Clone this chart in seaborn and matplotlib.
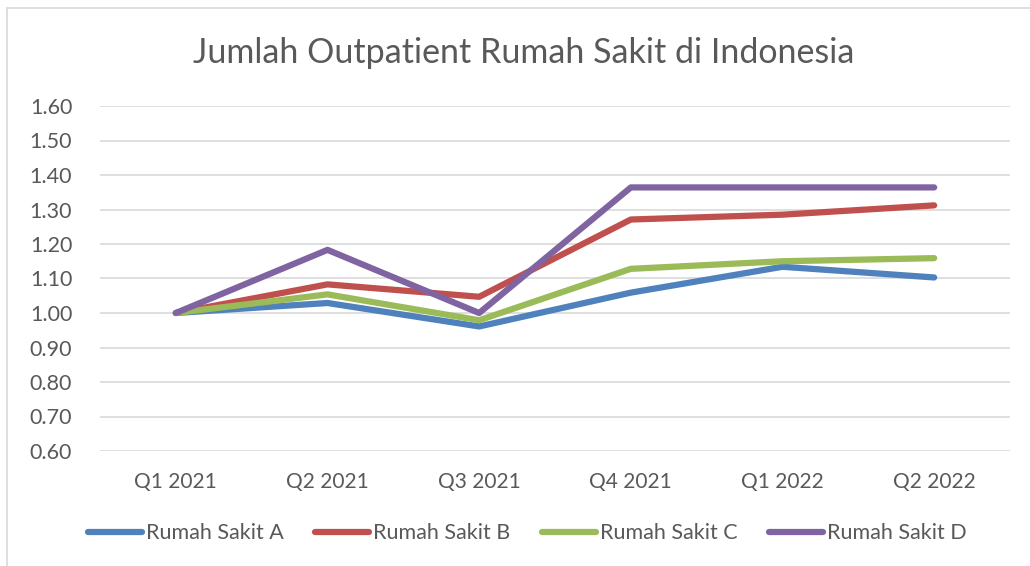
import pandas as pd
import matplotlib.pyplot as plt
import seaborn as sns

# Data
quarters = ['Q1 2021', 'Q2 2021', 'Q3 2021', 'Q4 2021', 'Q1 2022', 'Q2 2022']
rs_a = [1.00, 1.029, 0.961, 1.059, 1.134, 1.103]
rs_b = [1.00, 1.083, 1.047, 1.271, 1.285, 1.312]
rs_c = [1.00, 1.054, 0.979, 1.128, 1.150, 1.159]
rs_d = [1.00, 1.183, 1.000, 1.364, 1.364, 1.364]
series_names = ['Rumah Sakit A', 'Rumah Sakit B', 'Rumah Sakit C', 'Rumah Sakit D']
colors = ['#4F81BD', '#C0504D', '#9BBB59', '#8064A2']
yticks = [0.60, 0.70, 0.80, 0.90, 1.00, 1.10, 1.20, 1.30, 1.40, 1.50, 1.60]

# long format for seaborn
rows = []
for name, vals in zip(series_names, [rs_a, rs_b, rs_c, rs_d]):
    for q, v in zip(quarters, vals):
        rows.append({'Quarter': q, 'Value': v, 'Series': name})
df = pd.DataFrame(rows)

sns.set_style('white')
plt.rcParams['font.family'] = ['Lato', 'DejaVu Sans']
text_color = '#595959'

fig = plt.figure(figsize=(10.3, 5.66), dpi=100)
ax = fig.add_axes([100 / 1030, 115 / 566, 910 / 1030, 345 / 566])

sns.lineplot(data=df, x='Quarter', y='Value', hue='Series', palette=colors,
             linewidth=4.5, ax=ax, legend=True,
             solid_capstyle='round', solid_joinstyle='round')

ax.set_xlim(-0.5, len(quarters) - 0.5)
ax.set_ylim(0.6, 1.6)
ax.set_yticks(yticks)
ax.set_yticklabels([f'{t:.2f}' for t in yticks])
ax.grid(axis='y', color='#D9D9D9', linewidth=1.2)
ax.set_axisbelow(True)
for s in ax.spines.values():
    s.set_visible(False)
ax.tick_params(axis='y', length=0, pad=20, labelsize=15.5, labelcolor=text_color)
ax.tick_params(axis='x', length=0, pad=15, labelsize=15, labelcolor=text_color)
ax.set_xlabel('')
ax.set_ylabel('')

fig.suptitle('Jumlah Outpatient Rumah Sakit di Indonesia', x=0.508, y=0.906,
             fontsize=24.5, color=text_color, va='center')

handles, labels = ax.get_legend_handles_labels()
ax.get_legend().remove()
fig.legend(handles, labels, loc='center', bbox_to_anchor=(0.512, 0.058), ncol=4,
           frameon=False, fontsize=15.5, handlelength=2.5, handletextpad=0.2,
           columnspacing=1.45, labelcolor=text_color)

# chart border like the original
fig.add_artist(plt.Line2D([7 / 1030, 7 / 1030], [0, 1 - 8 / 566], color='#D9D9D9', lw=1.2))
fig.add_artist(plt.Line2D([7 / 1030, 1], [1 - 8 / 566, 1 - 8 / 566], color='#D9D9D9', lw=1.2))

plt.savefig('out.png', dpi=100)
